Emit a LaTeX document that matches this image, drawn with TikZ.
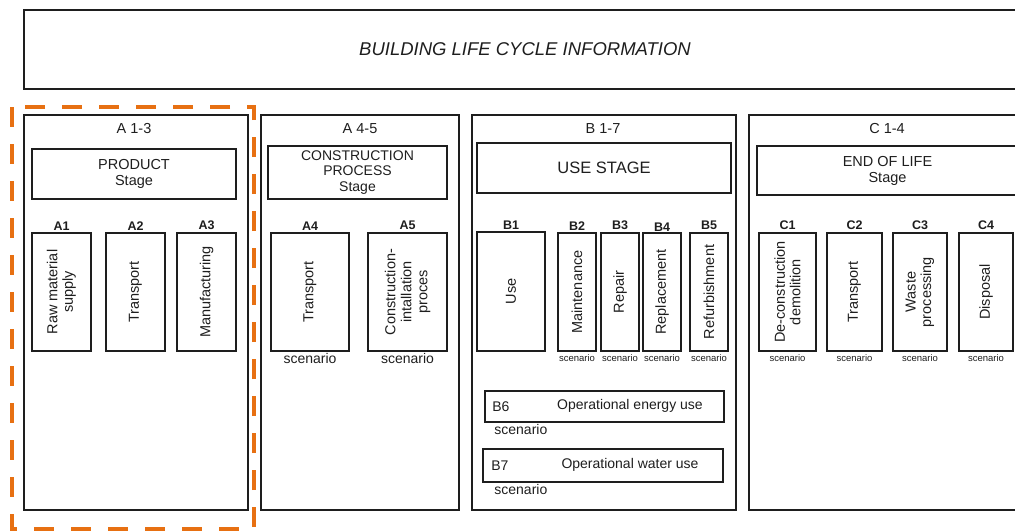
\documentclass[tikz,border=0pt]{standalone}
\usepackage{fontspec}
\setmainfont{Liberation Sans}
\usetikzlibrary{positioning}
\definecolor{ink}{RGB}{30,30,30}
\definecolor{focus}{RGB}{231,112,18}

\begin{document}
\begin{tikzpicture}[
    x=1pt, y=-1pt,
    every node/.append style={text=ink},
    frame/.style={draw=ink, line width=1.7pt, minimum height=395, inner sep=0pt},
    stagebox/.style={draw=ink, line width=1.7pt, align=center, inner sep=0pt,
        font=\fontsize{14.5}{16}\selectfont},
    module/.style={draw=ink, line width=1.6pt, minimum height=118, inner sep=0pt},
    vtext/.style={rotate=90, align=center, font=\fontsize{14.5}{15.5}\selectfont},
    phase/.style={font=\fontsize{14.5}{16}\selectfont},
    tag/.style={font=\fontsize{12.5}{14}\selectfont\bfseries, inner sep=1pt},
    body/.style={font=\fontsize{14}{15}\selectfont, inner sep=1pt},
    scen/.style={font=\fontsize{9.5}{10}\selectfont, inner sep=1pt}
]
    \useasboundingbox (0,0) rectangle (1015,531);
    \clip (0,0) rectangle (1015,531);

    % Title bar
    \node[draw=ink, line width=1.7pt, minimum width=1002, minimum height=79,
          font=\fontsize{18.5}{20}\selectfont\itshape] (info) at (525,49.5)
          {BUILDING LIFE CYCLE INFORMATION};

    % A 1-3: product stage
    \node[frame, minimum width=224] (pa) at (136,312.5) {};
    \node[phase] (pat) at (134,129) {A 1-3};
    \node[stagebox, minimum width=204, minimum height=50] (sa) at (134,174) {PRODUCT\\Stage};

    \node[module, minimum width=59] (a1) at (61.5,292) {};
    \node[module, minimum width=59] (a2) at (135.5,292) {};
    \node[module, minimum width=59] (a3) at (206.5,292) {};
    \node[vtext] (a1x) at (a1) {Raw material\\supply};
    \node[vtext] (a2x) at (a2) {Transport};
    \node[vtext] (a3x) at (a3) {Manufacturing};
    \node[tag, above=1pt of a1] (a1t) {A1};
    \node[tag, above=1pt of a2] (a2t) {A2};
    \node[tag, above=1pt of a3] (a3t) {A3};

    % A 4-5: construction process stage
    \node[frame, minimum width=198] (pb) at (360,312.5) {};
    \node[phase] (pbt) at (360,129) {A 4-5};
    \node[stagebox, minimum width=179, minimum height=53, font=\fontsize{14}{15.5}\selectfont]
        (sb) at (357.5,172.5) {CONSTRUCTION\\PROCESS\\Stage};

    \node[module, minimum width=78] (a4) at (310,292) {};
    \node[module, minimum width=79] (a5) at (407.5,292) {};
    \node[vtext] (a4x) at (a4) {Transport};
    \node[vtext, font=\fontsize{14.5}{16}\selectfont] (a5x) at (a5) {Construction-\\intallation\\proces};
    \node[tag, above=1pt of a4] (a4t) {A4};
    \node[tag, above=1pt of a5] (a5t) {A5};
    \node[body, below=0.5pt of a4] (a4s) {scenario};
    \node[body, below=0.5pt of a5] (a5s) {scenario};

    % B 1-7: use stage
    \node[frame, minimum width=264] (pc) at (604,312.5) {};
    \node[phase] (pct) at (603,129) {B 1-7};
    \node[stagebox, minimum width=254, minimum height=50, font=\fontsize{16.5}{18}\selectfont]
        (sc) at (604,168) {USE STAGE};

    \node[module, minimum width=68, minimum height=119] (b1) at (511,291.5) {};
    \node[module, minimum width=38] (b2) at (577,292) {};
    \node[module, minimum width=38] (b3) at (620,292) {};
    \node[module, minimum width=38] (b4) at (662,292) {};
    \node[module, minimum width=38] (b5) at (709,292) {};
    \node[vtext] (b1x) at (b1) {Use};
    \node[vtext] (b2x) at (b2) {Maintenance};
    \node[vtext] (b3x) at (b3) {Repair};
    \node[vtext] (b4x) at (b4) {Replacement};
    \node[vtext] (b5x) at (b5) {Refurbishment};
    \node[tag, above=1pt of b1] (b1t) {B1};
    \node[tag, above=1pt of b2] (b2t) {B2};
    \node[tag, above=1pt of b3] (b3t) {B3};
    \node[tag, above=0pt of b4] (b4t) {B4};
    \node[tag, above=1pt of b5] (b5t) {B5};
    \node[scen, below=1.5pt of b2] (b2s) {scenario};
    \node[scen, below=1.5pt of b3] (b3s) {scenario};
    \node[scen, below=1.5pt of b4] (b4s) {scenario};
    \node[scen, below=1.5pt of b5] (b5s) {scenario};

    % operational use
    \node[draw=ink, line width=1.6pt, minimum width=239, minimum height=31, inner sep=0pt]
        (b6) at (604.5,406.5) {};
    \node[body, right=7pt of b6.west] (b6t) {B6};
    \node[body] (b6x) at (630,406) {Operational energy use};
    \node[body, below right=0pt and 9pt of b6.south west] (b6s) {scenario};

    \node[draw=ink, line width=1.6pt, minimum width=240, minimum height=33, inner sep=0pt]
        (b7) at (603,465.5) {};
    \node[body, right=8pt of b7.west] (b7t) {B7};
    \node[body] (b7x) at (630,465) {Operational water use};
    \node[body, below right=0pt and 11pt of b7.south west] (b7s) {scenario};

    % C 1-4: end of life stage
    \node[frame, minimum width=277] (pd) at (887.5,312.5) {};
    \node[phase] (pdt) at (887,129) {C 1-4};
    \node[stagebox, minimum width=261, minimum height=49] (sd) at (887.5,170.5) {END OF LIFE\\Stage};

    \node[module, minimum width=57] (c1) at (787.5,292) {};
    \node[module, minimum width=55] (c2) at (854.5,292) {};
    \node[module, minimum width=54] (c3) at (920,292) {};
    \node[module, minimum width=54] (c4) at (986,292) {};
    \node[vtext] (c1x) at (c1) {De-construction\\demolition};
    \node[vtext] (c2x) at (c2) {Transport};
    \node[vtext] (c3x) at (c3) {Waste\\processing};
    \node[vtext] (c4x) at (c4) {Disposal};
    \node[tag, above=1pt of c1] (c1t) {C1};
    \node[tag, above=1pt of c2] (c2t) {C2};
    \node[tag, above=1pt of c3] (c3t) {C3};
    \node[tag, above=1pt of c4] (c4t) {C4};
    \node[scen, below=1.5pt of c1] (c1s) {scenario};
    \node[scen, below=1.5pt of c2] (c2s) {scenario};
    \node[scen, below=1.5pt of c3] (c3s) {scenario};
    \node[scen, below=1.5pt of c4] (c4s) {scenario};

    % Highlight of the product stage
    \draw[focus, line width=4.5pt, dash pattern=on 20pt off 17pt]
        (12,107) -- (12,529) -- (254,529) -- (254,107) -- cycle;
\end{tikzpicture}
\end{document}
